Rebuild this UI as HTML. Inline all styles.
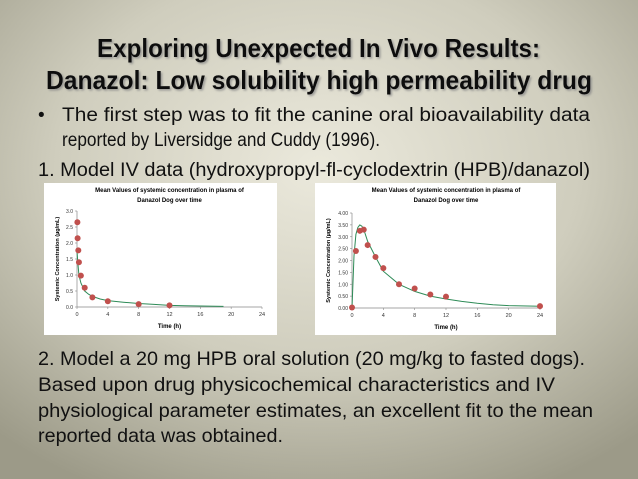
<!DOCTYPE html>
<html><head><meta charset="utf-8"><style>
html,body{margin:0;padding:0;width:638px;height:479px;overflow:hidden}
svg{display:block}
.t{font-family:"Liberation Sans",sans-serif}
</style></head><body>
<svg id="slide" width="638" height="479" viewBox="0 0 638 479" xmlns="http://www.w3.org/2000/svg">
<defs>
<radialGradient id="bg" cx="0.5" cy="0.35" r="0.75">
<stop offset="0" stop-color="#ebe9dc"/><stop offset="0.55" stop-color="#cfcdbd"/><stop offset="1" stop-color="#9c9a88"/>
</radialGradient>
<filter id="sh"><feDropShadow dx="1.5" dy="1.5" stdDeviation="1" flood-color="#888" flood-opacity="0.8"/></filter>
</defs>
<rect width="638" height="479" fill="url(#bg)"/>
<g class="t" font-weight="bold" font-size="26" fill="#111" filter="url(#sh)">
<text x="97" y="57" textLength="443" lengthAdjust="spacingAndGlyphs">Exploring Unexpected In Vivo Results:</text>
<text x="46" y="89" textLength="546" lengthAdjust="spacingAndGlyphs">Danazol: Low solubility high permeability drug</text>
</g>
<g class="t" font-size="19" fill="#111">
<text x="38" y="121">•</text>
<text x="62" y="121" textLength="528" lengthAdjust="spacingAndGlyphs">The first step was to fit the canine oral bioavailability data</text>
<text x="62" y="146" textLength="318" lengthAdjust="spacingAndGlyphs">reported by Liversidge and Cuddy (1996).</text>
<text x="38" y="176" textLength="552" lengthAdjust="spacingAndGlyphs">1.   Model IV data (hydroxypropyl-fl-cyclodextrin (HPB)/danazol)</text>
</g>
<g class="t" font-size="19.5" fill="#111">
<text x="38" y="365" textLength="547" lengthAdjust="spacingAndGlyphs">2. Model a 20 mg HPB oral solution (20 mg/kg to fasted dogs).</text>
<text x="38" y="391" textLength="517" lengthAdjust="spacingAndGlyphs">Based upon drug physicochemical characteristics and IV</text>
<text x="38" y="417" textLength="555" lengthAdjust="spacingAndGlyphs">physiological parameter estimates, an excellent fit to the mean</text>
<text x="38" y="442" textLength="245" lengthAdjust="spacingAndGlyphs">reported data was obtained.</text>
</g>
<rect x="44" y="183" width="233" height="152" fill="#fff"/>
<rect x="315" y="183" width="241" height="152" fill="#fff"/>
<g id="c1"></g><g id="c2"></g>
</svg>
<script>
// Chart 1: IV data
const iv_obs_t = [0.05, 0.08, 0.17, 0.25, 0.5, 1, 2, 4, 8, 12];
const iv_obs_c = [2.65, 2.15, 1.77, 1.4, 0.98, 0.6, 0.3, 0.18, 0.09, 0.05];
const iv_model_t = [0, 0.1, 0.25, 0.5, 1, 1.5, 2, 3, 4, 6, 8, 10, 12, 14, 16, 19];
const iv_model_c = [1.75, 1.4, 1.0, 0.75, 0.5, 0.4, 0.33, 0.25, 0.2, 0.15, 0.11, 0.08, 0.05, 0.04, 0.03, 0.02];
const iv_yticks = [0, 0.5, 1.0, 1.5, 2.0, 2.5, 3.0];
// Chart 2: oral data
const or_obs_t = [0, 0.5, 1, 1.5, 2, 3, 4, 6, 8, 10, 12, 24];
const or_obs_c = [0.02, 2.4, 3.25, 3.3, 2.65, 2.15, 1.68, 1.0, 0.82, 0.57, 0.48, 0.08];
const or_model_t = [0, 0.25, 0.5, 0.75, 1, 1.25, 1.5, 2, 3, 4, 6, 8, 10, 12, 14, 16, 18, 20, 24];
const or_model_c = [0, 2.2, 3.1, 3.4, 3.5, 3.45, 3.3, 2.8, 2.15, 1.55, 1.0, 0.7, 0.5, 0.38, 0.28, 0.2, 0.14, 0.1, 0.07];
const or_yticks = [0, 0.5, 1, 1.5, 2, 2.5, 3, 3.5, 4];
const xticks = [0, 4, 8, 12, 16, 20, 24];

const NS = "http://www.w3.org/2000/svg";
function mk(parent, tag, attrs, txt) {
  const e = document.createElementNS(NS, tag);
  for (const k in attrs) e.setAttribute(k, attrs[k]);
  if (txt !== undefined) e.textContent = txt;
  parent.appendChild(e);
  return e;
}
function draw(g, cfg) {
  const X = t => cfg.x0 + (cfg.x1 - cfg.x0) * t / 24;
  const Y = v => cfg.y0 - (cfg.y0 - cfg.y1) * v / cfg.ymax;
  const f = 'Liberation Sans, sans-serif';
  let e;
  e = mk(g, 'text', {x: (cfg.x0 + cfg.x1) / 2, y: 192, 'font-size': 6, 'font-weight': 'bold', 'text-anchor': 'middle', 'font-family': f}, 'Mean Values of systemic concentration in plasma of');
  
  
  e = mk(g, 'text', {x: (cfg.x0 + cfg.x1) / 2, y: 202, 'font-size': 6, 'font-weight': 'bold', 'text-anchor': 'middle', 'font-family': f}, 'Danazol Dog over time');
  
  
  e = mk(g, 'line', {x1: cfg.x0, y1: cfg.y0, x2: cfg.x1, y2: cfg.y0, stroke: '#888', 'stroke-width': 0.7});
  
  
  e = mk(g, 'line', {x1: cfg.x0, y1: cfg.y0, x2: cfg.x0, y2: cfg.y1, stroke: '#888', 'stroke-width': 0.7});
  
  
  cfg.yticks.forEach(v => {
    e = mk(g, 'line', {x1: cfg.x0 - 2, y1: Y(v), x2: cfg.x0, y2: Y(v), stroke: '#888', 'stroke-width': 0.6});
    
    
    e = mk(g, 'text', {x: cfg.x0 - 4, y: Y(v) + 2, 'font-size': 5, 'text-anchor': 'end', 'font-family': f, fill: '#333'}, v.toFixed(cfg.dec));
    
    
  });
  xticks.forEach(v => {
    e = mk(g, 'line', {x1: X(v), y1: cfg.y0, x2: X(v), y2: cfg.y0 + 2, stroke: '#888', 'stroke-width': 0.6});
    
    
    e = mk(g, 'text', {x: X(v), y: cfg.y0 + 9, 'font-size': 5.5, 'text-anchor': 'middle', 'font-family': f, fill: '#333'}, String(v));
    
    
  });
  e = mk(g, 'text', {x: (cfg.x0 + cfg.x1) / 2, y: cfg.y0 + 21, 'font-size': 6, 'font-weight': 'bold', 'text-anchor': 'middle', 'font-family': f}, 'Time (h)');
  
  
  const yc = (cfg.y0 + cfg.y1) / 2;
  e = mk(g, 'text', {x: cfg.yt, y: yc, 'font-size': 5.5, 'font-weight': 'bold', 'text-anchor': 'middle', 'font-family': f, transform: `rotate(-90 ${cfg.yt} ${yc})`}, 'Systemic Concentration (µg/mL)');
  
  
  const d = cfg.mt.map((t, i) => (i ? 'L' : 'M') + X(t).toFixed(1) + ' ' + Y(cfg.mc[i]).toFixed(1)).join(' ');
  e = mk(g, 'path', {d: d, fill: 'none', stroke: '#2e8b57', 'stroke-width': 1});
  
  
  cfg.ot.forEach((t, i) => {
    e = mk(g, 'circle', {cx: X(t), cy: Y(cfg.oc[i]), r: 3, fill: '#c0504d'});
    
    
  });
}
draw(document.getElementById('c1'), {x0: 77, x1: 262, y0: 307, y1: 211, ymax: 3, yticks: iv_yticks, dec: 1, yt: 59, mt: iv_model_t, mc: iv_model_c, ot: iv_obs_t, oc: iv_obs_c});
draw(document.getElementById('c2'), {x0: 352, x1: 540, y0: 308, y1: 213, ymax: 4, yticks: or_yticks, dec: 2, yt: 330, mt: or_model_t, mc: or_model_c, ot: or_obs_t, oc: or_obs_c});
</script>
</body></html>
